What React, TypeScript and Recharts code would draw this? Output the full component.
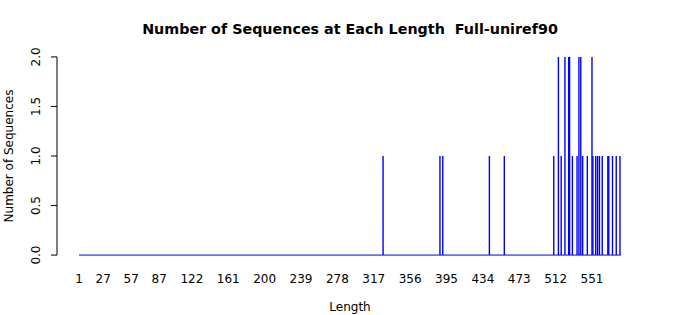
import React from 'react';
import { BarChart, Bar, XAxis, YAxis, ReferenceLine } from 'recharts';

// sequence lengths that occur, and how many sequences have each length
const lengths = [327, 388, 391, 441, 457, 510, 515, 518, 522, 526, 527, 530, 535, 537, 539, 541, 546, 551, 552, 555, 557, 559, 562, 568, 569, 573, 577, 581];
const counts = [1, 1, 1, 1, 1, 1, 2, 1, 2, 2, 2, 1, 1, 2, 2, 1, 1, 2, 1, 1, 1, 1, 1, 1, 1, 1, 1, 1];
const xTicks = [1, 27, 57, 87, 122, 161, 200, 239, 278, 317, 356, 395, 434, 473, 512, 551];
const yTicks = [0, 0.5, 1, 1.5, 2];
const minLength = 1;
const maxLength = 582;

const data = lengths.map((len, i) => ({ len, count: counts[i] }));

const W = 700;
const H = 315;
const PLOT_LEFT = 57;
const PLOT_RIGHT = 643;
const PLOT_TOP = 49;
const PLOT_BOTTOM = 263;
const FONT = '"DejaVu Sans", sans-serif';

const XTick = (props: any) => (
  <text x={props.x} y={PLOT_BOTTOM + 16} textAnchor="middle" dominantBaseline="central"
    fontSize={12} fontFamily={FONT} fill="#000">
    {props.payload.value}
  </text>
);

const YTick = (props: any) => (
  <text x={36} y={props.y} textAnchor="middle" dominantBaseline="central"
    transform={`rotate(-90 36 ${props.y})`} fontSize={12} fontFamily={FONT} fill="#000">
    {Number(props.payload.value).toFixed(1)}
  </text>
);

// R style type="h" line
const Spike = (props: any) => {
  const cx = props.x + props.width / 2;
  return <line x1={cx} x2={cx} y1={props.y} y2={props.y + props.height} stroke="#0000ff" strokeWidth={1.4} />;
};

export default function App() {
  return (
    <div style={{ position: 'absolute', left: 0, top: 0, width: W, height: H, background: '#fff', fontFamily: FONT }}>
      <div style={{ position: 'absolute', left: 0, top: 21, width: W, textAlign: 'center', fontSize: 14.3, fontWeight: 'bold', whiteSpace: 'pre' }}>
        Number of Sequences at Each Length  Full-uniref90
      </div>
      <div style={{ position: 'absolute', left: 0, top: 300, width: W, textAlign: 'center', fontSize: 12 }}>
        Length
      </div>
      <div style={{
        position: 'absolute', left: 9, top: (PLOT_TOP + PLOT_BOTTOM) / 2, fontSize: 12, whiteSpace: 'nowrap',
        transform: 'translate(-50%, -50%) rotate(-90deg)'
      }}>
        Number of Sequences
      </div>
      <BarChart
        width={W}
        height={H}
        data={data}
        margin={{ top: PLOT_TOP, right: W - PLOT_RIGHT, left: PLOT_LEFT - 45, bottom: H - PLOT_BOTTOM - 40 }}
        style={{ position: 'absolute', left: 0, top: 0 }}
      >
        <XAxis
          dataKey="len"
          type="number"
          domain={[-22.6, 605.7]}
          allowDataOverflow
          ticks={xTicks}
          interval={0}
          axisLine={false}
          tickLine={false}
          height={40}
          tick={<XTick />}
        />
        <YAxis
          type="number"
          domain={[-0.08, 2.08]}
          allowDataOverflow
          ticks={yTicks}
          interval={0}
          width={45}
          axisLine={false}
          tickLine={{ stroke: '#000' }}
          tickSize={6}
          tick={<YTick />}
        />
        <ReferenceLine
          segment={[{ x: minLength, y: 0 }, { x: maxLength, y: 0 }]}
          stroke="#0000ff"
          strokeWidth={1}
          ifOverflow="visible"
        />
        <ReferenceLine
          segment={[{ x: -22.6, y: 0 }, { x: -22.6, y: 2 }]}
          stroke="#000"
          strokeWidth={1}
          ifOverflow="visible"
        />
        <Bar dataKey="count" shape={<Spike />} isAnimationActive={false} />
      </BarChart>
    </div>
  );
}
